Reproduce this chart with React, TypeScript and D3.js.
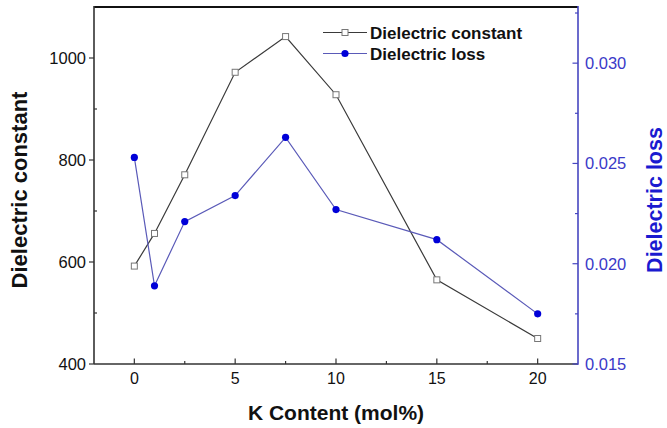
import React from "react";
import * as d3 from "d3";

const kContent = [0, 1, 2.5, 5, 7.5, 10, 15, 20];
const dielectricConstant = [592, 656, 771, 972, 1042, 928, 565, 450];
const dielectricLoss = [0.0253, 0.0189, 0.0221, 0.0234, 0.0263, 0.0227, 0.0212, 0.0175];

const xTicks = [0, 5, 10, 15, 20];
const xMinorTicks = [2.5, 7.5, 12.5, 17.5];
const leftTicks = [400, 600, 800, 1000];
const leftMinorTicks = [500, 700, 900];
const rightTicks = [0.015, 0.02, 0.025, 0.03];
const rightMinorTicks = [0.0175, 0.0225, 0.0275, 0.0325];

const W = 667;
const H = 428;
const L = 94, R = 578, T = 7, B = 364;
const FONT = "'Liberation Sans', Arial, Helvetica, sans-serif";
const BLUE_AXIS = "#4646c0";
const BLUE_TEXT = "#3a3ac8";
const BLUE_LINE = "#5a5ab8";
const BLUE_MARK = "#0000d8";

export default function App() {
  const x = d3.scaleLinear().domain([-2, 22]).range([L, R]);
  const yL = d3.scaleLinear().domain([400, 1100]).range([B, T]);
  const yR = d3.scaleLinear().domain([0.015, 0.0328]).range([B, T]);

  const lineC = d3.line<number>().x((_, i) => x(kContent[i])).y((d) => yL(d));
  const lineL = d3.line<number>().x((_, i) => x(kContent[i])).y((d) => yR(d));

  return (
    <svg width={W} height={H} style={{ position: "absolute", left: 0, top: 0, background: "#fff" }} fontFamily={FONT}>
      <rect x={0} y={0} width={W} height={H} fill="#fff" />
      {/* series */}
      <path d={lineC(dielectricConstant) || ""} fill="none" stroke="#3a3a3a" strokeWidth={1.2} />
      <path d={lineL(dielectricLoss) || ""} fill="none" stroke={BLUE_LINE} strokeWidth={1.2} />
      {dielectricConstant.map((d, i) => (
        <rect key={"c" + i} x={x(kContent[i]) - 3} y={yL(d) - 3} width={6} height={6} fill="#fff" stroke="#777" strokeWidth={1} />
      ))}
      {dielectricLoss.map((d, i) => (
        <circle key={"l" + i} cx={x(kContent[i])} cy={yR(d)} r={3.6} fill={BLUE_MARK} />
      ))}

      {/* axes lines */}
      <line x1={L} x2={R} y1={T} y2={T} stroke="#111" strokeWidth={1.8} />
      <line x1={L} x2={L} y1={T - 0.9} y2={B} stroke="#333" strokeWidth={1.6} />
      <line x1={L} x2={R} y1={B} y2={B} stroke="#333" strokeWidth={1.6} />
      <line x1={R} x2={R} y1={T - 0.9} y2={B + 0.8} stroke={BLUE_AXIS} strokeWidth={1.6} />

      {/* x ticks */}
      {xTicks.map((t) => (
        <g key={"xt" + t}>
          <line x1={x(t)} x2={x(t)} y1={B} y2={B - 5.5} stroke="#333" strokeWidth={1.2} />
          <text x={x(t)} y={384} textAnchor="middle" fontSize={16} fill="#111">{t}</text>
        </g>
      ))}
      {xMinorTicks.map((t) => (
        <line key={"xm" + t} x1={x(t)} x2={x(t)} y1={B} y2={B - 3} stroke="#333" strokeWidth={1.2} />
      ))}

      {/* left ticks */}
      {leftTicks.map((t) => (
        <g key={"lt" + t}>
          <line x1={L} x2={L - 5} y1={yL(t)} y2={yL(t)} stroke="#333" strokeWidth={1.2} />
          <text x={86} y={yL(t)} dy="0.36em" textAnchor="end" fontSize={16.5} fill="#111">{t}</text>
        </g>
      ))}
      {leftMinorTicks.map((t) => (
        <line key={"lm" + t} x1={L} x2={L + 3} y1={yL(t)} y2={yL(t)} stroke="#333" strokeWidth={1.2} />
      ))}

      {/* right ticks */}
      {rightTicks.map((t) => (
        <g key={"rt" + t}>
          <line x1={R} x2={R - 5.5} y1={yR(t)} y2={yR(t)} stroke={BLUE_AXIS} strokeWidth={1.2} />
          <text x={585} y={yR(t)} dy="0.36em" textAnchor="start" fontSize={16.5} fill={BLUE_TEXT}>{t.toFixed(3)}</text>
        </g>
      ))}
      {rightMinorTicks.map((t) => (
        <line key={"rm" + t} x1={R} x2={R - 3} y1={yR(t)} y2={yR(t)} stroke={BLUE_AXIS} strokeWidth={1.2} />
      ))}

      {/* axis titles */}
      <text x={(L + R) / 2} y={420} textAnchor="middle" fontSize={21} fontWeight="bold" fill="#111">K Content (mol%)</text>
      <text transform={`translate(26.5,190) rotate(-90)`} textAnchor="middle" fontSize={22} fontWeight="bold" fill="#111">Dielectric constant</text>
      <text transform={`translate(662,200) rotate(-90)`} textAnchor="middle" fontSize={21.5} fontWeight="bold" fill="#1a1ad0">Dielectric loss</text>

      {/* legend */}
      <line x1={323} x2={367} y1={32.5} y2={32.5} stroke="#3a3a3a" strokeWidth={1.2} />
      <rect x={342} y={29.5} width={6} height={6} fill="#fff" stroke="#777" strokeWidth={1} />
      <text x={370} y={38.5} fontSize={17} fontWeight="bold" fill="#111">Dielectric constant</text>
      <line x1={323} x2={367} y1={53.5} y2={53.5} stroke={BLUE_LINE} strokeWidth={1.2} />
      <circle cx={345} cy={53.5} r={3.6} fill={BLUE_MARK} />
      <text x={370} y={59.5} fontSize={17} fontWeight="bold" fill="#111">Dielectric loss</text>
    </svg>
  );
}
